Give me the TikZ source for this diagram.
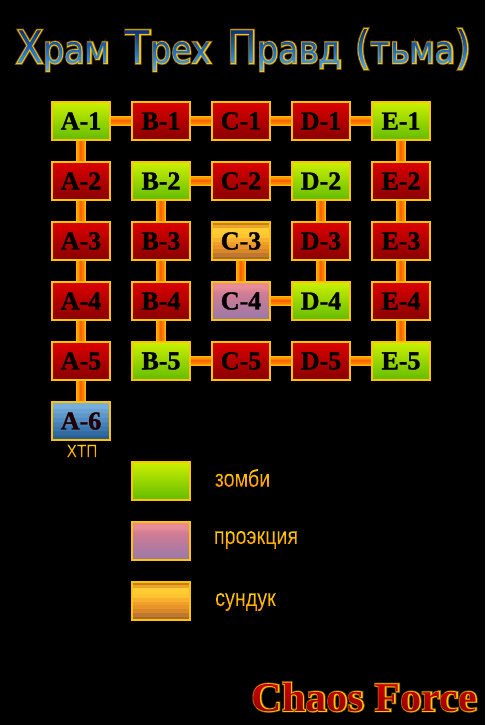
\documentclass[tikz,border=0pt]{standalone}
\usepackage{fontspec}
\usepackage{graphicx}
\usetikzlibrary{fadings}
\setmainfont{Liberation Sans}
\newfontfamily\titlefont{DejaVu Sans}
\newfontfamily\titleglow[FakeBold=4]{DejaVu Sans}
\newfontfamily\titlehalo[FakeBold=8]{DejaVu Sans}
\newfontfamily\labelfont[FakeBold=1.2]{Liberation Serif Bold}
\newfontfamily\brandfont{Liberation Serif Bold}
\newfontfamily\brandglow[FakeBold=3.5]{Liberation Serif Bold}
\newfontfamily\brandhalo[FakeBold=7]{Liberation Serif Bold}
\newfontfamily\legendfont[FakeBold=1]{Liberation Sans}
\newcommand{\capsz}{\fontsize{45}{45}\selectfont}
\newcommand{\lowsz}{\fontsize{38}{38}\selectfont}
\newcommand{\titletext}[1]{{#1\scalebox{.88}[1]{{\capsz Х}{\lowsz рам}\hspace{18pt}{\capsz Т}{\lowsz рех}\hspace{18pt}{\capsz П}{\lowsz равд}\hspace{15pt}{\capsz (}{\lowsz тьма}{\capsz )}}}}
\newcommand{\brandtext}[1]{{#1\fontsize{41}{41}\selectfont\scalebox{1.03}[1]{Chaos Force}}}
\newcommand{\zombtext}{{\legendfont\fontsize{24}{24}\selectfont\scalebox{.82}[1]{зомби}}}
\newcommand{\projtext}{{\legendfont\fontsize{24}{24}\selectfont\scalebox{.82}[1]{проэкция}}}
\newcommand{\chesttext}{{\legendfont\fontsize{24}{24}\selectfont\scalebox{.82}[1]{сундук}}}
\newcommand{\bosstext}{{\legendfont\fontsize{18}{18}\selectfont\scalebox{.85}[1]{ХТП}}}
\begin{tikzfadingfrompicture}[name=titlefade]\node[text=transparent!0,inner sep=0pt]{\titletext{\titlefont}};\end{tikzfadingfrompicture}
\begin{tikzfadingfrompicture}[name=brandfade]\node[text=transparent!0,inner sep=0pt]{\brandtext{\brandfont}};\end{tikzfadingfrompicture}
\begin{tikzfadingfrompicture}[name=zombfade]\node[text=transparent!0,inner sep=0pt]{\zombtext};\end{tikzfadingfrompicture}
\begin{tikzfadingfrompicture}[name=projfade]\node[text=transparent!0,inner sep=0pt]{\projtext};\end{tikzfadingfrompicture}
\begin{tikzfadingfrompicture}[name=chestfade]\node[text=transparent!0,inner sep=0pt]{\chesttext};\end{tikzfadingfrompicture}
\begin{tikzfadingfrompicture}[name=bossfade]\node[text=transparent!0,inner sep=0pt]{\bosstext};\end{tikzfadingfrompicture}
\definecolor{gold}{HTML}{FFC400}
\definecolor{halo}{HTML}{6A4E00}
\definecolor{rt}{HTML}{DC0000}\definecolor{rb}{HTML}{880000}
\definecolor{gt}{HTML}{CCF000}\definecolor{gb}{HTML}{62BC00}
\definecolor{pt}{HTML}{E88C98}\definecolor{pm}{HTML}{D07C96}\definecolor{pb}{HTML}{9878A8}
\definecolor{a1}{HTML}{A86A35}\definecolor{a2}{HTML}{C07830}\definecolor{a3}{HTML}{D88828}\definecolor{a4}{HTML}{E89428}\definecolor{a5}{HTML}{F0A028}
\definecolor{a6}{HTML}{F8B030}\definecolor{a7}{HTML}{FFC430}\definecolor{a8}{HTML}{FFCC33}\definecolor{a9}{HTML}{EAA428}\definecolor{a0}{HTML}{C87C20}
\definecolor{b1}{HTML}{2A5E96}\definecolor{b2}{HTML}{326AA2}\definecolor{b3}{HTML}{3C76AE}\definecolor{b4}{HTML}{4680B8}\definecolor{b5}{HTML}{528CC0}\definecolor{b6}{HTML}{5E98CA}\definecolor{b7}{HTML}{6AA2D2}\definecolor{b8}{HTML}{78AEDA}
\definecolor{tt}{HTML}{0C2A70}\definecolor{tm}{HTML}{2274CC}\definecolor{tb}{HTML}{78C4F4}
\definecolor{l1}{HTML}{FFB800}\definecolor{l2}{HTML}{FF9A00}\definecolor{l3}{HTML}{FF7E00}\definecolor{l4}{HTML}{FF6400}
\definecolor{lt}{HTML}{FFD800}\definecolor{lb}{HTML}{FF8C00}
\pgfdeclareverticalshading{redbox}{100bp}{color(0bp)=(rb);color(25bp)=(rb);color(75bp)=(rt);color(100bp)=(rt)}
\pgfdeclareverticalshading{greenbox}{100bp}{color(0bp)=(gb);color(25bp)=(gb);color(75bp)=(gt);color(100bp)=(gt)}
\pgfdeclareverticalshading{pinkbox}{100bp}{color(0bp)=(pb);color(25bp)=(pb);color(60bp)=(pm);color(68bp)=(pt);color(75bp)=(pt);color(100bp)=(pt)}
\pgfdeclareverticalshading{chestbox}{100bp}{color(0bp)=(a1);color(29.8bp)=(a1);color(30bp)=(a2);color(34.8bp)=(a2);color(35bp)=(a3);color(39.8bp)=(a3);color(40bp)=(a4);color(44.8bp)=(a4);color(45bp)=(a5);color(49.8bp)=(a5);color(50bp)=(a6);color(54.8bp)=(a6);color(55bp)=(a7);color(59.8bp)=(a7);color(60bp)=(a8);color(67.8bp)=(a8);color(68bp)=(a9);color(71.8bp)=(a9);color(72bp)=(a0);color(100bp)=(a0)}
\pgfdeclareverticalshading{bluebox}{100bp}{color(0bp)=(b1);color(31bp)=(b1);color(31.2bp)=(b2);color(37bp)=(b2);color(37.2bp)=(b3);color(43bp)=(b3);color(43.2bp)=(b4);color(49bp)=(b4);color(49.2bp)=(b5);color(55bp)=(b5);color(55.2bp)=(b6);color(61bp)=(b6);color(61.2bp)=(b7);color(67bp)=(b7);color(67.2bp)=(b8);color(100bp)=(b8)}
\tikzset{
  room/.style 2 args={draw=gold,line width=2pt,minimum width=58pt,minimum height=38pt,inner sep=0pt,shading=#1,
    text=#2,font=\labelfont\fontsize{26}{26}\selectfont,
    path picture={\draw[draw=orange!70!brown,line width=2pt] (path picture bounding box.south west) rectangle (path picture bounding box.north east);}},
  redroom/.style={room={redbox}{black}},
  greenroom/.style={room={greenbox}{black}},
  pinkroom/.style={room={pinkbox}{black}},
  chestroom/.style={room={chestbox}{black}},
  blueroom/.style={room={bluebox}{black!75!red!50!black}},
  swatch/.style={draw=gold,line width=2pt,minimum width=58pt,minimum height=38pt,inner sep=0pt,shading=#1},
}
\newcommand{\links}[1]{\foreach \p/\q in {#1}{
  \draw[line width=10pt,color=l1] (\p)--(\q);
  \draw[line width=7.5pt,color=l2] (\p)--(\q);
  \draw[line width=5pt,color=l3] (\p)--(\q);
  \draw[line width=2.5pt,color=l4] (\p)--(\q);}}
\newcommand{\gradlabel}[5]{% name, x, y, half width, half height
  \shade[path fading=#1,fit fading=false,fading transform={shift={(#2,#3)}},top color=lt,bottom color=lb] (#2-#4,#3-#5) rectangle (#2+#4,#3+#5);}
\begin{document}
\begin{tikzpicture}[x=1pt,y=-1pt]
\useasboundingbox (0,0) rectangle (485,725);
\fill[black] (0,0) rectangle (485,725);
% title
\node[text=halo,inner sep=0pt] (titleh) at (243.5,50) {\titletext{\titlehalo}};
\node[text=gold,inner sep=0pt] (title) at (243.5,50) {\titletext{\titleglow}};
\shade[path fading=titlefade,fit fading=false,fading transform={shift={(243.5,50)}},top color=tt,bottom color=tb,middle color=tm] (3.5,28) rectangle (483.5,78);
% rooms
\foreach \n/\x/\y/\s in {A-1/81/121/greenroom,B-1/161/121/redroom,C-1/241/121/redroom,D-1/321/121/redroom,E-1/401/121/greenroom,
  A-2/81/181/redroom,B-2/161/181/greenroom,C-2/241/181/redroom,D-2/321/181/greenroom,E-2/401/181/redroom,
  A-3/81/241/redroom,B-3/161/241/redroom,C-3/241/241/chestroom,D-3/321/241/redroom,E-3/401/241/redroom,
  A-4/81/301/redroom,B-4/161/301/redroom,C-4/241/301/pinkroom,D-4/321/301/greenroom,E-4/401/301/redroom,
  A-5/81/361/redroom,B-5/161/361/greenroom,C-5/241/361/redroom,D-5/321/361/redroom,E-5/401/361/greenroom,
  A-6/81/421/blueroom}
  {\node[\s] (\n) at (\x,\y) {\n};}
\links{A-1/B-1,B-1/C-1,C-1/D-1,D-1/E-1,A-1/A-2,A-2/A-3,A-3/A-4,A-4/A-5,A-5/A-6,
  E-1/E-2,E-2/E-3,E-3/E-4,E-4/E-5,B-2/C-2,C-2/D-2,B-2/B-3,B-3/B-4,B-4/B-5,
  D-2/D-3,D-3/D-4,C-3/C-4,C-4/D-4,B-5/C-5,C-5/D-5,D-5/E-5}
% legend
\node[swatch=greenbox] (sw1) at (161,481) {};
\node[swatch=pinkbox] (sw2) at (161,541) {};
\node[swatch=chestbox] (sw3) at (161,601) {};
\gradlabel{bossfade}{82}{451}{25}{9}
\gradlabel{zombfade}{242.5}{478}{40}{13}
\gradlabel{projfade}{256}{540}{55}{13}
\gradlabel{chestfade}{245.5}{602}{40}{13}
% brand
\node[text=halo,inner sep=0pt] (brandh) at (364.5,697) {\brandtext{\brandhalo}};
\node[text=gold,inner sep=0pt] (brand) at (364.5,697) {\brandtext{\brandglow}};
\shade[path fading=brandfade,fit fading=false,fading transform={shift={(364.5,697)}},top color=rt,bottom color=rb] (234.5,675) rectangle (494.5,720);
\end{tikzpicture}
\end{document}
